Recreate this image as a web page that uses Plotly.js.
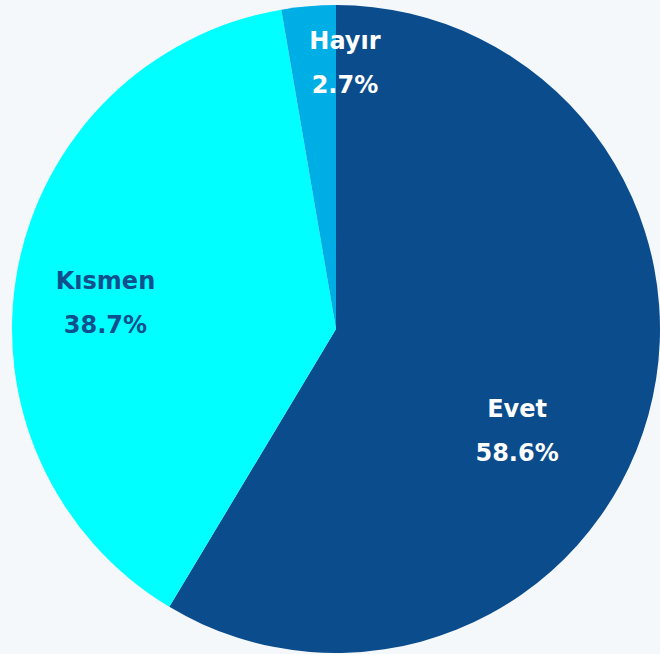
<!DOCTYPE html>
<html>
<head>
<meta charset="utf-8">
<script src="https://cdn.plot.ly/plotly-3.0.1.min.js"></script>
<style>html,body{margin:0;padding:0;background:#f4f8fb;}#chart{width:660px;height:654px;}</style>
</head>
<body>
<div id="chart"></div>
<script>
const labels = ["Evet", "Kısmen", "Hayır"];
const values = [58.6, 38.7, 2.7];
const colors = ["#0a4c8c", "#00ffff", "#00aee6"];
const textColors = ["#ffffff", "#0e4f8e", "#ffffff"];

const W = 660, H = 654, CX = 336, CY = 329, R = 324;
function domainFor(r) {
  return { x: [(CX - r) / W, (CX + r) / W], y: [1 - (CY + r) / H, 1 - (CY - r) / H] };
}

const slices = {
  type: "pie",
  labels: labels,
  values: values,
  sort: false,
  direction: "clockwise",
  rotation: 0,
  marker: { colors: colors, line: { width: 0 } },
  textinfo: "none",
  hoverinfo: "label+percent",
  showlegend: false,
  domain: domainFor(R)
};

// label placement per slice (style only): [rotation offset, hole, radius]
const labelPlacement = [
  { rot: 14, hole: 0.284, r: R },
  { rot: -4.2, hole: 0.432, r: R },
  { rot: 6.8, hole: 0, r: 289 }
];

const textTraces = labels.map((lab, i) => ({
  type: "pie",
  labels: labels,
  values: values,
  sort: false,
  direction: "clockwise",
  rotation: labelPlacement[i].rot,
  hole: labelPlacement[i].hole,
  marker: { colors: labels.map(() => "rgba(0,0,0,0)"), line: { width: 0 } },
  texttemplate: "%{label}<br><span style=\"baseline-shift:-13px\">%{percent:.1%}</span>",
  textposition: labels.map((_, j) => (j === i ? "inside" : "none")),
  insidetextorientation: "horizontal",
  textfont: { family: "DejaVu Sans", size: 24, color: textColors, weight: "bold" },
  hoverinfo: "skip",
  showlegend: false,
  domain: domainFor(labelPlacement[i].r)
}));

const layout = {
  width: W, height: H,
  margin: { l: 0, r: 0, t: 0, b: 0 },
  paper_bgcolor: "#f4f8fb",
  plot_bgcolor: "#f4f8fb",
  showlegend: false,
  uniformtext: { minsize: 24, mode: "show" }
};

Plotly.newPlot("chart", [slices].concat(textTraces), layout, { displayModeBar: false, staticPlot: true });
</script>
</body>
</html>
